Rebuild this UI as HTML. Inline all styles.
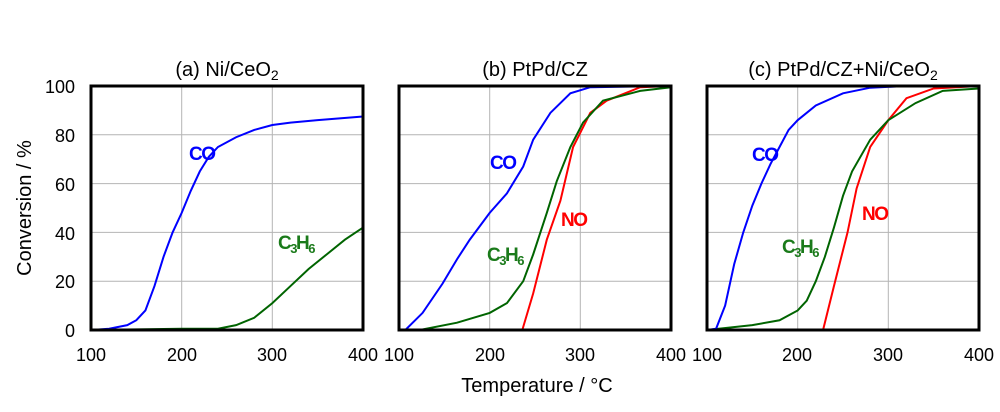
<!DOCTYPE html>
<html><head><meta charset="utf-8"><style>body{margin:0;background:#fff}svg{display:block}text{font-family:"Liberation Sans",sans-serif}</style></head><body>
<svg width="1000" height="412" viewBox="0 0 1000 412" xmlns="http://www.w3.org/2000/svg">
<defs>
<g id="grid" stroke="#b4b4b4" stroke-width="1">
<line x1="0" x2="272" y1="48.8" y2="48.8"/><line x1="0" x2="272" y1="97.6" y2="97.6"/><line x1="0" x2="272" y1="146.4" y2="146.4"/><line x1="0" x2="272" y1="195.2" y2="195.2"/>
<line x1="90.7" x2="90.7" y1="0" y2="244"/><line x1="181.3" x2="181.3" y1="0" y2="244"/>
</g>
</defs>
<g font-size="20" text-anchor="middle" fill="#000">
<text x="227" y="76">(a) Ni/CeO<tspan font-size="14" dy="4">2</tspan></text>
<text x="535" y="76">(b) PtPd/CZ</text>
<text x="843" y="76">(c) PtPd/CZ+Ni/CeO<tspan font-size="14" dy="4">2</tspan></text>
</g>
<g font-size="18" text-anchor="end">
<text x="75" y="93">100</text><text x="75" y="142">80</text><text x="75" y="191">60</text><text x="75" y="240">40</text><text x="75" y="288">20</text><text x="75" y="337">0</text>
</g>
<g font-size="18" text-anchor="middle">
<text x="91" y="361">100</text><text x="182" y="361">200</text><text x="272" y="361">300</text><text x="363" y="361">400</text>
<text x="399" y="361">100</text><text x="490" y="361">200</text><text x="580" y="361">300</text><text x="671" y="361">400</text>
<text x="707" y="361">100</text><text x="797" y="361">200</text><text x="888" y="361">300</text><text x="979" y="361">400</text>
</g>
<text x="537" y="392" font-size="20" text-anchor="middle">Temperature / °C</text>
<text transform="translate(31,208) rotate(-90)" font-size="20" text-anchor="middle">Conversion / %</text>

<!-- Panel 1 -->
<g transform="translate(91,86)"><use href="#grid"/></g>
<g transform="translate(91,330) scale(0.9067,-2.44)" fill="none" stroke-width="2">
<polyline vector-effect="non-scaling-stroke" stroke="#006400" points="0,0 100,0.5 140,0.5 160,2 180,5 200,11 220,18 240,25 260,31 280,37 300,42"/>
<polyline vector-effect="non-scaling-stroke" stroke="#0000ff" points="0,0 20,0.5 40,2 50,4 60,8 70,18 80,30 90,40 100,48 110,57 120,65 130,71 140,75 160,79 180,82 200,84 220,85 250,86 300,87.5"/>
</g>
<rect x="91" y="86" width="272" height="244" fill="none" stroke="#000" stroke-width="3"/>
<text x="189" y="160" font-size="19" font-weight="bold" fill="#0000ff" letter-spacing="-1.5">CO</text>
<text x="278" y="249" font-size="19" font-weight="bold" fill="#1a7a1a" letter-spacing="-1.5">C<tspan font-size="13" dy="4">3</tspan><tspan dy="-4">H</tspan><tspan font-size="13" dy="4">6</tspan></text>

<!-- Panel 2 -->
<g transform="translate(399,86)"><use href="#grid"/></g>
<g transform="translate(399,330) scale(0.9067,-2.44)" fill="none" stroke-width="2">
<polyline vector-effect="non-scaling-stroke" stroke="#ff0000" points="136,0 148,15 163,37 178,53 192,75 211,89 229,94 266,99.5 300,100"/>
<polyline vector-effect="non-scaling-stroke" stroke="#006400" points="0,0 23,0 64,3 100,7 119,11 137,20 148,31 163,48 174,61 189,75 203,85 225,94 266,98 300,99.5"/>
<polyline vector-effect="non-scaling-stroke" stroke="#0000ff" points="0,0 7,0 26,7 48,19 64,29 78,37 100,48 119,56 137,67 148,78 167,89 189,97 211,99.5 300,100"/>
</g>
<rect x="399" y="86" width="272" height="244" fill="none" stroke="#000" stroke-width="3"/>
<text x="490" y="169" font-size="19" font-weight="bold" fill="#0000ff" letter-spacing="-1.5">CO</text>
<text x="487" y="261" font-size="19" font-weight="bold" fill="#1a7a1a" letter-spacing="-1.5">C<tspan font-size="13" dy="4">3</tspan><tspan dy="-4">H</tspan><tspan font-size="13" dy="4">6</tspan></text>
<text x="561" y="226" font-size="19" font-weight="bold" fill="#ff0000" letter-spacing="-1.5">NO</text>

<!-- Panel 3 -->
<g transform="translate(707,86)"><use href="#grid"/></g>
<g transform="translate(707,330) scale(0.9067,-2.44)" fill="none" stroke-width="2">
<polyline vector-effect="non-scaling-stroke" stroke="#ff0000" points="128,0 140,18 155,40 165,58 180,75 200,86 220,95 250,99 300,100"/>
<polyline vector-effect="non-scaling-stroke" stroke="#006400" points="0,0 50,2 80,4 100,8 110,12 120,20 130,30 140,42 150,55 160,65 180,78 200,86 230,93 260,98 300,99"/>
<polyline vector-effect="non-scaling-stroke" stroke="#0000ff" points="0,0 10,0.5 20,10 30,27 40,40 50,51 60,60 70,68 80,75 90,82 100,86 120,92 150,97 180,99.3 220,100 300,100"/>
</g>
<rect x="707" y="86" width="272" height="244" fill="none" stroke="#000" stroke-width="3"/>
<text x="752" y="161" font-size="19" font-weight="bold" fill="#0000ff" letter-spacing="-1.5">CO</text>
<text x="782" y="253" font-size="19" font-weight="bold" fill="#1a7a1a" letter-spacing="-1.5">C<tspan font-size="13" dy="4">3</tspan><tspan dy="-4">H</tspan><tspan font-size="13" dy="4">6</tspan></text>
<text x="862" y="220" font-size="19" font-weight="bold" fill="#ff0000" letter-spacing="-1.5">NO</text>
</svg>
</body></html>
